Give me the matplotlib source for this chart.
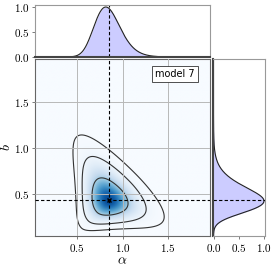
import numpy as np
import matplotlib
matplotlib.use('Agg')
from matplotlib import pyplot as plt

plt.rcParams['font.family'] = 'serif'
plt.rcParams['font.serif'] = ['cmr10']
plt.rcParams['mathtext.fontset'] = 'cm'
plt.rcParams['axes.formatter.use_mathtext'] = True

# best-fit point and shape of the posterior
alpha_best = 0.85
b_best = 0.43
sig_sum_lo = 0.187    # spread of alpha+b below the peak
sig_sum_hi = 0.18     # spread of alpha+b above the peak
sig_diff_lo = 0.24    # spread of alpha-b towards upper-left
sig_diff_hi = 0.19    # spread of alpha-b towards lower-right
fan = 1.5             # widening of alpha-b with alpha+b
chi2_levels = [10.4, 5.8, 1.94]

alpha_lim = [0.04, 1.96]
b_lim = [0.04, 1.97]
ticks = [0.5, 1.0, 1.5]
marg_ticks = [0.0, 0.5, 1.0]
label = 'model 7'

# density on a grid
a = np.linspace(0, 2, 400)
bb = np.linspace(0, 2, 400)
A, B = np.meshgrid(a, bb)
s = A + B
d = A - B
s_c = alpha_best + b_best
d_c = alpha_best - b_best
sig_s = np.where(s < s_c, sig_sum_lo, sig_sum_hi)
w = np.where(d < d_c, sig_diff_lo, sig_diff_hi) * np.exp(fan * (s - s_c))
Q = ((s - s_c) / sig_s) ** 2 + ((d - d_c) / w) ** 2
dens = np.exp(-0.5 * Q)

marg_a = dens.sum(axis=0)
marg_a = marg_a / marg_a.max()
marg_b = dens.sum(axis=1)
marg_b = marg_b / marg_b.max()

W, H = 274, 268
fig = plt.figure(figsize=(W / 100, H / 100), dpi=100)
ax = fig.add_axes([35 / W, (H - 236) / H, 175 / W, 177 / H])
axt = fig.add_axes([35 / W, (H - 57) / H, 175 / W, 52 / H])
axr = fig.add_axes([213 / W, (H - 236) / H, 52 / W, 177 / H])

spine_col = '#666666'
fs = 8

# main panel
ax.imshow(dens, origin='lower', extent=[0, 2, 0, 2], cmap='Blues',
          vmin=0, vmax=1.1, interpolation='bilinear', aspect='auto', zorder=0)
ax.contour(A, B, dens, levels=[np.exp(-0.5 * q) for q in chi2_levels],
           colors='#333333', linewidths=0.8, zorder=2)
ax.grid(True, color='#b8b8b8', lw=0.7, zorder=1)
ax.set_axisbelow(False)
ax.axvline(alpha_best, color='k', ls='--', lw=0.8, dashes=(3, 2), zorder=3)
ax.axhline(b_best, color='k', ls='--', lw=0.8, dashes=(3, 2), zorder=3)
ax.plot([alpha_best], [b_best], marker='x', color='k', ms=3, mew=1, zorder=4)
ax.set_xlim(alpha_lim)
ax.set_ylim(b_lim)
ax.set_xticks(ticks)
ax.set_yticks(ticks)
ax.set_xlabel(r'$\alpha$', fontsize=10, labelpad=1)
ax.set_ylabel(r'$b$', fontsize=10)
ax.yaxis.set_label_coords(-0.125, 0.5)
ax.tick_params(labelsize=fs, length=2, width=0.6, color=spine_col, pad=2)
for sp in ax.spines.values():
    sp.set_color(spine_col)
    sp.set_linewidth(0.8)
ax.text(0.8, 0.915, label, transform=ax.transAxes, ha='center', va='center',
        fontsize=7, family='DejaVu Sans',
        bbox=dict(boxstyle='square,pad=0.35', fc='white', ec='#333333', lw=0.6), zorder=5)

# top marginal
axt.fill_between(a, 0, marg_a, color='#ccccff', lw=0)
axt.plot(a, marg_a, color='#222222', lw=0.8)
axt.axvline(alpha_best, color='k', ls='--', lw=0.8, dashes=(3, 2))
axt.set_xlim(alpha_lim)
axt.set_ylim(0, 1.04)
axt.set_yticks(marg_ticks)
axt.set_xticks([])
axt.tick_params(labelsize=fs, length=2, width=0.6, color=spine_col, pad=2)
for sp in axt.spines.values():
    sp.set_color('#999999')
    sp.set_linewidth(0.8)
axt.spines['bottom'].set_color('#444444')
axt.spines['bottom'].set_linewidth(1.5)

# right marginal
axr.fill_betweenx(bb, 0, marg_b, color='#ccccff', lw=0)
axr.plot(marg_b, bb, color='#222222', lw=0.8)
axr.axhline(b_best, color='k', ls='--', lw=0.8, dashes=(3, 2))
axr.set_ylim(b_lim)
axr.set_xlim(-0.01, 1.02)
axr.set_xticks(marg_ticks)
axr.set_yticks([])
axr.tick_params(labelsize=fs, length=2, width=0.6, color=spine_col, pad=2)
for sp in axr.spines.values():
    sp.set_color('#999999')
    sp.set_linewidth(0.8)
axr.spines['left'].set_color('#444444')
axr.spines['left'].set_linewidth(1.5)

fig.savefig('out.png', dpi=100)
